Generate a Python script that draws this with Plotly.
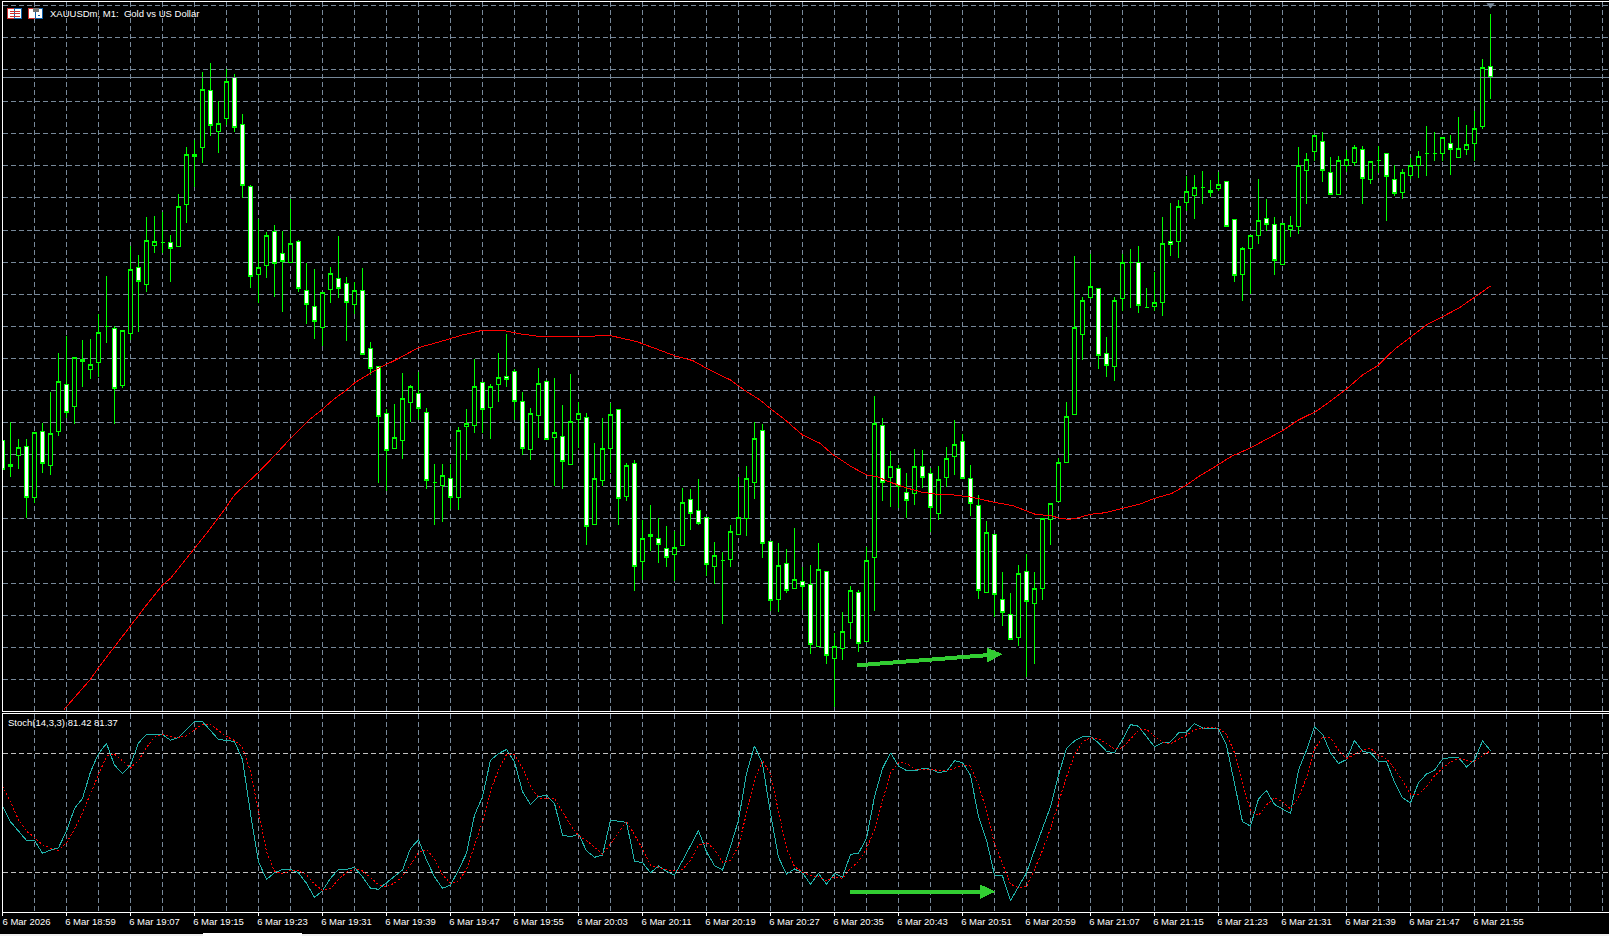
import plotly.graph_objects as go

W, H = 1609, 936
# Price readings, in cents above the pane floor (no price scale is visible in the picture)
opens = [812,740,767,793,640,838,737,839,980,913,
 1055,1025,1046,1153,1148,977,1133,1331,1280,1396,
 1404,1406,1393,1520,1663,1690,1862,1739,1777,1901,
 1760,1574,1310,1337,1439,1373,1345,1409,1262,1214,
 1151,1265,1298,1283,1220,1262,1088,1033,893,787,
 812,926,952,896,685,676,698,641,854,857,
 986,911,980,1003,1019,929,785,887,989,821,
 824,740,875,880,560,692,788,905,643,743,
 449,530,517,487,470,497,635,602,580,433,
 451,455,529,578,686,842,509,335,443,368,
 388,380,193,419,158,188,266,356,208,461,
 856,700,728,655,653,734,712,593,701,764,
 809,698,617,356,530,335,290,221,419,323,
 368,575,629,746,890,1130,1240,1268,1073,1034,
 1238,1344,1346,1209,1213,1225,1408,1408,1526,1547,
 1570,1555,1567,1588,1475,1310,1387,1426,1478,1460,
 1340,1445,1453,1621,1678,1709,1616,1550,1637,1645,
 1685,1595,1650,1672,1594,1555,1607,1637,1671,1671,
 1673,1702,1661,1684,1703,1753,1934]
closes = [725,733,791,641,835,743,833,989,896,1061,
 1049,1040,1136,1153,968,1142,1325,1288,1412,1409,
 1404,1388,1514,1670,1670,1865,1757,1763,1889,1751,
 1577,1304,1331,1427,1343,1349,1403,1268,1220,1169,
 1256,1313,1268,1226,1262,1070,1028,884,782,821,
 938,974,908,692,685,707,641,842,863,974,
 905,974,1001,995,929,788,893,983,815,836,
 749,869,893,554,698,788,890,638,737,434,
 518,524,500,461,491,626,593,563,440,467,
 451,539,581,698,818,503,332,437,362,395,
 374,199,425,167,194,239,362,203,452,863,
 686,734,674,632,734,701,611,695,758,800,
 698,623,362,536,350,296,215,413,329,368,
 578,623,746,884,1151,1232,1274,1067,1037,1232,
 1346,1344,1216,1209,1226,1403,1400,1514,1559,1571,
 1570,1562,1580,1454,1307,1388,1427,1472,1460,1352,
 1463,1457,1635,1655,1727,1622,1550,1652,1655,1691,
 1598,1649,1650,1604,1553,1616,1636,1664,1671,1671,
 1721,1685,1688,1700,1748,1931,1901]
highs = [858,866,816,816,835,863,957,1073,1125,1061,
 1113,1115,1190,1305,1156,1143,1394,1367,1481,1484,
 1496,1427,1551,1691,1712,1916,1943,1829,1925,1910,
 1790,1577,1477,1436,1457,1439,1535,1412,1343,1325,
 1256,1331,1424,1301,1286,1328,1106,1035,905,920,
 1013,978,1016,908,740,740,740,851,905,1055,
 988,980,1073,1130,1025,956,908,1028,993,998,
 917,1011,926,893,803,878,923,905,743,753,
 573,618,578,555,541,669,665,695,580,507,
 477,557,703,735,866,861,509,503,485,549,
 431,438,503,419,235,297,374,363,491,945,
 878,779,739,713,786,783,728,735,791,872,
 830,737,647,569,530,417,353,437,470,416,
 578,623,758,926,1365,1241,1370,1268,1121,1241,
 1370,1386,1395,1268,1316,1481,1523,1533,1604,1607,
 1619,1592,1616,1588,1475,1391,1427,1595,1535,1481,
 1463,1484,1691,1673,1727,1736,1661,1664,1683,1697,
 1694,1649,1694,1672,1637,1625,1658,1679,1754,1736,
 1721,1727,1781,1757,1801,1955,2091]
lows = [718,703,726,578,625,714,708,825,878,862,
 973,997,1003,1103,862,970,1112,1138,1258,1374,
 1374,1288,1393,1464,1573,1645,1726,1675,1759,1738,
 1540,1270,1225,1300,1243,1198,1345,1258,1162,1117,
 1096,1225,1238,1111,1190,1070,1008,685,661,787,
 757,866,874,666,559,568,606,604,754,835,
 835,817,928,973,874,768,754,820,813,674,
 665,738,788,499,560,675,715,559,631,361,
 393,480,445,433,390,497,543,557,405,382,
 261,432,529,526,636,460,301,298,355,368,
 302,172,193,142,13,153,216,178,208,301,
 631,613,609,580,619,670,536,574,673,709,
 698,586,337,356,281,256,215,196,101,142,
 334,499,629,746,890,1054,1237,1025,1003,991,
 1201,1210,1195,1209,1201,1186,1366,1360,1499,1476,
 1521,1541,1561,1453,1287,1231,1250,1401,1440,1308,
 1340,1422,1432,1521,1649,1587,1550,1550,1616,1636,
 1521,1582,1614,1471,1544,1535,1596,1600,1606,1650,
 1650,1609,1661,1668,1650,1746,1836]

ma_bar = [7.7,11,12,14,16,18,20,21,23,24,26,28,29,30.3,32,34.2,36.2,38.3,40,41.3,43,44.1,46,47,49.3,52,55,57.5,60,62.5,64.8,67.3,69,72,76,79.3,82,84.1,86.3,88.4,91,92.7,94.7,96.2,97.7,100,102.2,103.7,106.1,108,109.3,111,113.2,115,116.9,118.6,121.2,123.8,126.3,128,129.1,131,132.25,133.3,134.2,136,137.9,140,142.1,144,146.2,148,149.5,151.7,153.7,155.9,158.1,160,162,164.2,165.5,168.1,170,171.9,174,176,178,180,182,184,186]
ma_val = [5,95,130,193,253,318,378,398,458,488,548,613,648,678,716,771,823,873,905,933,963,986,1015,1028,1055,1090,1110,1128,1142,1142,1131,1123,1122,1124,1126,1108,1083,1065,1051,1023,993,963,933,903,876,828,803,771,733,708,703,686,668,656,650,649,641,627,616,601,590,586,578,575,578,590,595,608,620,638,653,678,703,735,765,788,816,841,873,899,921,968,1008,1036,1085,1121,1158,1183,1208,1241,1275]

stoch_main = [53.5,45.6,40.9,36.2,36.2,29.7,31.3,32.5,40.9,52.3,
 57.3,70.7,79.9,85.0,74.1,69.9,74.1,85.3,89.5,89.5,
 89.5,86.6,88.0,92.0,96.0,96.0,91.7,87.0,86.6,86.0,
 76.9,49.8,25.5,16.6,19.9,21.6,21.6,19.9,14.6,7.5,
 10.9,17.1,21.6,21.6,22.6,17.9,12.1,11.6,14.9,17.9,
 21.3,32.2,36.4,26.3,17.9,12.1,13.7,21.3,29.7,48.9,
 58.2,76.6,79.9,82.0,75.8,60.7,54.3,58.2,59.0,54.8,
 38.9,38.0,39.4,31.0,27.7,28.8,46.4,45.9,45.3,25.8,
 25.0,19.9,23.3,20.6,18.8,26.0,33.9,41.1,30.5,23.5,
 21.3,33.0,46.4,69.9,83.8,74.9,49.8,27.7,19.3,21.8,
 19.9,14.1,19.6,14.1,19.6,17.6,29.2,29.7,37.2,58.2,
 72.4,80.3,73.7,71.4,71.2,72.4,72.1,70.4,70.9,76.3,
 75.4,69.0,48.1,36.4,18.8,18.3,5.9,12.9,19.9,31.3,
 42.2,53.1,69.0,82.5,86.3,88.5,88.5,85.3,81.1,80.3,
 87.0,94.5,93.7,88.7,83.3,85.3,85.8,90.3,90.8,95.0,
 92.8,92.3,92.3,84.1,64.9,45.6,43.4,57.1,61.3,54.3,
 52.0,49.8,71.6,81.6,93.3,89.7,80.3,74.9,76.9,86.6,
 81.1,80.3,75.9,75.8,65.7,57.7,55.1,65.2,69.6,71.6,
 77.1,77.9,77.9,73.2,76.6,86.3,81.4]
stoch_signal = [63.5,55.6,46.6,40.9,37.7,34.0,32.3,31.2,34.9,41.9,
 50.1,60.2,69.4,78.6,79.6,76.3,72.7,76.4,83.0,88.2,
 89.5,88.5,88.0,88.8,92.0,94.7,94.5,91.5,88.5,86.5,
 83.1,70.9,50.8,30.7,20.6,19.4,21.1,21.1,18.8,14.1,
 11.1,11.9,16.6,20.1,22.0,20.8,17.6,13.9,12.9,14.7,
 18.1,23.8,30.0,31.7,26.8,18.8,14.6,15.8,21.6,33.4,
 45.6,61.2,71.6,79.4,79.3,72.7,63.5,57.7,57.1,57.3,
 50.9,43.9,38.7,36.2,32.7,29.2,34.4,40.4,45.9,39.0,
 32.0,23.6,22.8,21.3,20.9,21.8,26.1,33.7,35.2,31.7,
 25.1,26.0,33.5,49.8,66.7,76.3,69.6,50.8,32.2,23.0,
 20.3,18.6,17.9,15.9,17.8,17.1,22.1,25.5,32.0,41.7,
 56.0,70.2,75.4,75.1,72.1,71.7,71.9,71.6,71.1,72.6,
 74.2,73.6,64.2,51.1,34.4,24.5,14.2,12.4,12.9,21.5,
 31.2,42.2,54.8,68.2,79.3,85.8,87.8,87.5,85.0,82.3,
 82.8,87.3,91.7,92.3,88.5,85.8,84.8,87.1,89.0,92.0,
 92.8,93.3,92.5,89.7,80.4,64.9,51.3,48.8,54.0,57.7,
 55.8,52.0,57.8,67.7,82.1,88.2,87.8,81.6,77.4,79.4,
 81.6,82.6,79.1,77.3,72.4,66.4,59.5,59.3,63.4,68.7,
 72.7,75.6,77.6,76.4,75.9,78.8,81.4]

tick_bars = list(range(0, 185, 8))
tick_labels = ["6 Mar 2026","6 Mar 18:59","6 Mar 19:07","6 Mar 19:15","6 Mar 19:23","6 Mar 19:31",
 "6 Mar 19:39","6 Mar 19:47","6 Mar 19:55","6 Mar 20:03","6 Mar 20:11","6 Mar 20:19","6 Mar 20:27",
 "6 Mar 20:35","6 Mar 20:43","6 Mar 20:51","6 Mar 20:59","6 Mar 21:07","6 Mar 21:15","6 Mar 21:23",
 "6 Mar 21:31","6 Mar 21:39","6 Mar 21:47","6 Mar 21:55"]
title_text = "XAUUSDm, M1:  Gold vs US Dollar"
stoch_text = "Stoch(14,3,3) 81.42 81.37"
current_price = 1901
arrow1_bar, arrow1_val = [106.8, 125.0], [137, 171]
arrow2_bar, arrow2_val = [105.9, 124.1], [10.4, 10.4]

LIME, GRID = "#00FF00", "#778899"
FONT = "Liberation Sans"
FS = 9.5
bars = list(range(len(closes)))
bar_px, px_left = 8.0, 2.5
xr = [0, (W - px_left) / bar_px]

def fy(p):
    return 1 - p / H
def fx(p):
    return p / W

fig = go.Figure()
fig.add_trace(go.Candlestick(
    x=bars, open=opens, high=highs, low=lows, close=closes, xaxis="x", yaxis="y",
    increasing=dict(line=dict(color=LIME, width=1), fillcolor="#000000"),
    decreasing=dict(line=dict(color=LIME, width=1), fillcolor="#FFFFFF"),
    whiskerwidth=0, showlegend=False))
fig.add_trace(go.Scatter(x=ma_bar, y=ma_val, mode="lines", line=dict(color="#FF0000", width=1),
                         xaxis="x", yaxis="y", showlegend=False))
fig.add_trace(go.Scatter(x=[bars[-1]], y=[2118], mode="markers",
                         marker=dict(symbol="triangle-down", size=7, color=GRID),
                         xaxis="x", yaxis="y", showlegend=False))
fig.add_trace(go.Scatter(x=bars, y=stoch_main, mode="lines", line=dict(color="#20B2AA", width=1),
                         xaxis="x2", yaxis="y2", showlegend=False))
fig.add_trace(go.Scatter(x=bars, y=stoch_signal, mode="lines",
                         line=dict(color="#FF0000", width=1, dash="2px,2px"),
                         xaxis="x2", yaxis="y2", showlegend=False))

grid = dict(showgrid=True, gridcolor=GRID, gridwidth=1, griddash="5px,3px", zeroline=False)
minor = dict(tickmode="linear", tick0=0, dtick=4, showgrid=True, gridcolor=GRID, gridwidth=1,
             griddash="5px,3px", ticks="")
dom_x = [fx(px_left), 1]
fig.update_layout(
    width=W, height=H, paper_bgcolor="#000000", plot_bgcolor="#000000",
    margin=dict(l=0, r=0, t=0, b=0, autoexpand=False), boxgap=0.5, boxgroupgap=0, hovermode=False,
    showlegend=False, font=dict(family=FONT, color="#FFFFFF", size=FS),
    xaxis=dict(domain=dom_x, range=xr, anchor="y", rangeslider=dict(visible=False),
               tickmode="array", tickvals=tick_bars, ticktext=[""] * len(tick_bars), ticks="",
               showline=True, mirror=True, linecolor="#FFFFFF", linewidth=1, minor=minor, **grid),
    yaxis=dict(domain=[fy(711.3), fy(2.3)], range=[-0.9, 2126], anchor="x", tickmode="linear",
               tick0=94.7, dtick=96.3, showticklabels=False, ticks="", showline=True,
               linecolor="#FFFFFF", linewidth=1, **grid),
    xaxis2=dict(domain=dom_x, range=xr, anchor="y2", matches="x", tickmode="array", automargin=False,
                tickvals=tick_bars, ticktext=tick_labels, ticks="outside", ticklen=3,
                tickcolor="#FFFFFF", ticklabelshift=24, ticklabeloverflow="allow", ticklabelstandoff=-3,
                tickfont=dict(family=FONT, size=FS, color="#FFFFFF"),
                showline=True, mirror=True, linecolor="#FFFFFF", linewidth=1, minor=minor, **grid),
    yaxis2=dict(domain=[fy(912.3), fy(713.7)], range=[0, 100], anchor="x2", tickmode="array",
                tickvals=[20, 80], showticklabels=False, ticks="", showline=True, linecolor="#FFFFFF",
                linewidth=1, showgrid=True, gridcolor="#C0C0C0", gridwidth=1, griddash="5px,3px",
                zeroline=False),
)

fig.add_shape(type="line", xref="x", yref="y", x0=xr[0], x1=xr[1], y0=current_price, y1=current_price,
              line=dict(color=GRID, width=1))

def arrow(bx, vy, xref, yref, shaft, head, head_len):
    slope = (vy[1] - vy[0]) / (bx[1] - bx[0])
    xb = bx[1] - head_len
    yb = vy[1] - slope * head_len
    pts = [(bx[0], vy[0] + shaft), (xb, yb + shaft), (xb, yb + head), (bx[1], vy[1]),
           (xb, yb - head), (xb, yb - shaft), (bx[0], vy[0] - shaft)]
    path = "M " + " L ".join(f"{a},{b}" for a, b in pts) + " Z"
    fig.add_shape(type="path", path=path, xref=xref, yref=yref, fillcolor="#32CD32",
                  line=dict(color="#32CD32", width=0))

arrow(arrow1_bar, arrow1_val, "x", "y", 6, 22.5, 1.95)
arrow(arrow2_bar, arrow2_val, "x2", "y2", 1, 3.77, 1.95)

fig.add_annotation(xref="paper", yref="paper", x=fx(48), y=fy(13.5), text=title_text, showarrow=False,
                   xanchor="left", yanchor="middle", font=dict(family=FONT, size=FS, color="#FFFFFF"))
fig.add_annotation(xref="paper", yref="paper", x=fx(5.5), y=fy(722.7), text=stoch_text, showarrow=False,
                   xanchor="left", yanchor="middle", font=dict(family=FONT, size=FS, color="#FFFFFF"))

def rect(x0, y0, x1, y1, fill, line=None):
    fig.add_shape(type="rect", xref="paper", yref="paper", x0=fx(x0), x1=fx(x1), y0=fy(y0), y1=fy(y1),
                  fillcolor=fill, line=dict(color=line or fill, width=1 if line else 0))

# toolbar icons before the symbol title
rect(7.5, 8.5, 14.5, 18.5, "#FFFFFF", "#D03030")
rect(14.5, 8.5, 21.5, 18.5, "#FFFFFF", "#1060A8")
for yy in (11, 13.5, 16):
    rect(9.5, yy - 0.5, 19.5, yy + 0.5, "#D03030")
rect(28.5, 8.5, 35, 18.5, "#FFFFFF", "#D03030")
rect(35.5, 8.5, 42.5, 18.5, "#FFFFFF", "#1060A8")
rect(33, 8, 38.5, 11.5, "#707070")
rect(38, 14.5, 39.5, 16, "#1060A8")

# window tab strip along the bottom edge
rect(0, 934.3, W, H, "#F0F0F0")
rect(203, 932.7, 301.5, H, "#FFFFFF")

crisp = ("var gd=document.getElementById('{plot_id}');"
         "function crisp(){gd.querySelectorAll('.boxlayer path,.scatterlayer path.js-line,.shapelayer path')"
         ".forEach(function(p){p.style.shapeRendering='crispEdges';});}"
         "crisp();setTimeout(crisp,100);gd.on('plotly_afterplot',crisp);")
fig.write_html("out.html", config={"displayModeBar": False},
               post_script="document.body.style.margin='0';document.body.style.background='#000';" + crisp)
